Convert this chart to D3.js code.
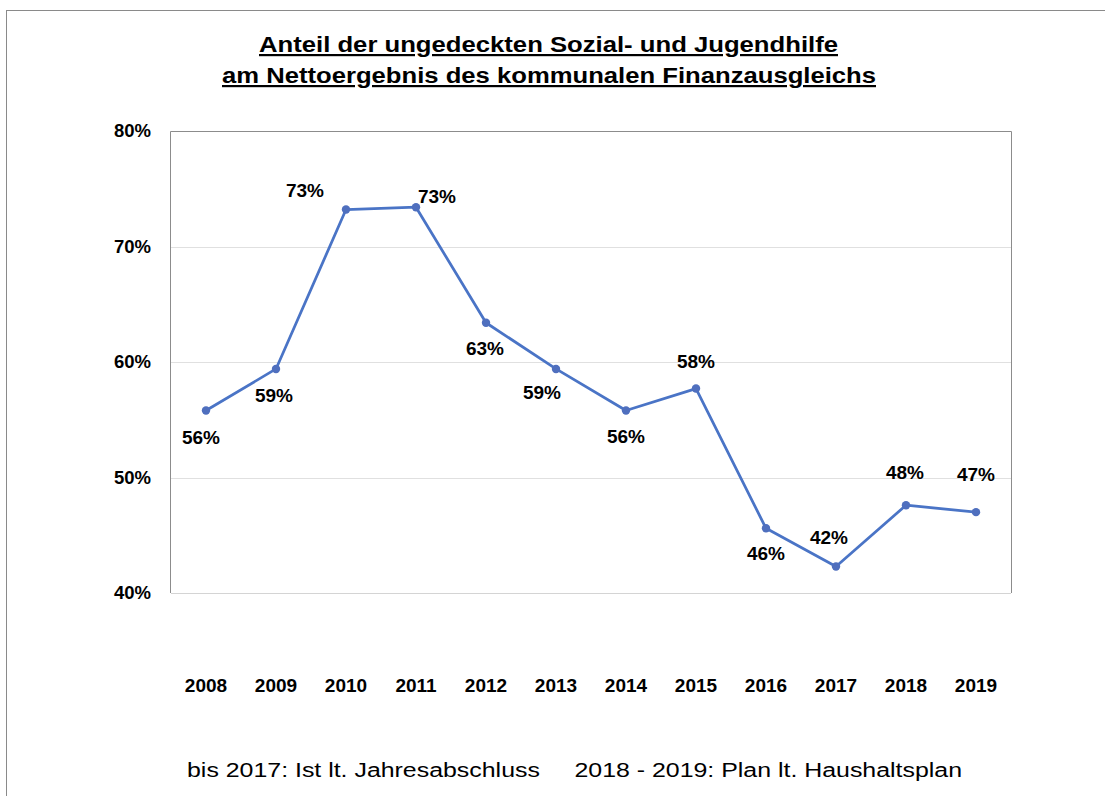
<!DOCTYPE html>
<html>
<head>
<meta charset="utf-8">
<script src="https://cdn.jsdelivr.net/npm/d3@7"></script>
<style>
  body { margin: 0; background: #fff; }
  svg { display: block; font-family: "Liberation Sans", Arial, sans-serif; }
</style>
</head>
<body>
<svg id="chart" width="1105" height="796"></svg>
<script>
'use strict';

// data
var years = ['2008', '2009', '2010', '2011', '2012', '2013', '2014', '2015', '2016', '2017', '2018', '2019'];
var shares = [55.8, 59.4, 73.2, 73.4, 63.4, 59.4, 55.8, 57.7, 45.6, 42.3, 47.6, 47.0];
var yTicks = [40, 50, 60, 70, 80];
var titleLines = ['Anteil der ungedeckten Sozial- und Jugendhilfe', 'am Nettoergebnis des kommunalen Finanzausgleichs'];
var footNote = 'bis 2017: Ist lt. Jahresabschluss\u00a0\u00a0\u00a0\u00a0\u00a02018 - 2019: Plan lt. Haushaltsplan';

// label placement for each point (dx, dy from the marker)
var labelShift = [
    [-5, 27], [-2, 26], [-41, -19], [21, -11], [-1, 26], [-14, 23],
    [0, 26], [0, -27], [0, 25], [-7, -29], [-1, -33], [0, -38]
];

var LINE_COLOR = '#4a74c6';
var DOT_COLOR = '#4f6fbe';
var GRID_COLOR = '#e0e0e0';
var FRAME_COLOR = '#8c8c8c';

var plot = { left: 171, right: 1011, top: 131, bottom: 593 };

var svg = d3.select('#chart');

// outer frame (runs past the right and bottom edges)
svg.append('rect')
    .attr('x', 6.5).attr('y', 10.5)
    .attr('width', 1200).attr('height', 900)
    .style('fill', 'none')
    .style('stroke', '#8a8a8a')
    .style('stroke-width', 1);

// title, the original glyphs are drawn wider than the font
var titleSpan = [[259, 838], [222, 876]];
titleLines.forEach(function(line, i) {
    svg.append('text')
        .attr('x', titleSpan[i][0])
        .attr('y', 52 + i * 31)
        .attr('textLength', titleSpan[i][1] - titleSpan[i][0])
        .attr('lengthAdjust', 'spacingAndGlyphs')
        .style('font-size', '22px')
        .style('font-weight', 'bold')
        .style('text-decoration', 'underline')
        .style('fill', '#000')
        .text(line);
});

var x = d3.scaleBand()
    .domain(years)
    .range([plot.left, plot.right]);

var y = d3.scaleLinear()
    .domain([40, 80])
    .range([plot.bottom, plot.top]);

// gridlines
svg.append('g')
    .selectAll('line')
    .data(yTicks.slice(1, -1))
    .join('line')
    .attr('x1', plot.left).attr('x2', plot.right)
    .attr('y1', function(d) { return Math.round(y(d)) + 0.5; })
    .attr('y2', function(d) { return Math.round(y(d)) + 0.5; })
    .style('stroke', GRID_COLOR)
    .style('stroke-width', 1);

// bottom line at 40%
svg.append('line')
    .attr('x1', plot.left).attr('x2', plot.right)
    .attr('y1', Math.round(y(40)) + 0.5).attr('y2', Math.round(y(40)) + 0.5)
    .style('stroke', '#d4d4d4')
    .style('stroke-width', 1);

// plot frame: left, top and right
svg.append('path')
    .attr('d', 'M' + (plot.left - 0.5) + ',' + plot.bottom +
        'V' + (plot.top + 0.5) + 'H' + (plot.right + 0.5) + 'V' + plot.bottom)
    .style('fill', 'none')
    .style('stroke', FRAME_COLOR)
    .style('stroke-width', 1);

// y axis labels
var yAxis = d3.axisLeft(y)
    .tickValues(yTicks)
    .tickFormat(function(d) { return d + '%'; })
    .tickSize(0)
    .tickPadding(20);
var yg = svg.append('g')
    .attr('transform', 'translate(' + plot.left + ',0)')
    .call(yAxis);
yg.select('.domain').remove();
yg.selectAll('text')
    .style('font-family', '"Liberation Sans", Arial, sans-serif')
    .style('font-size', '18.5px')
    .style('font-weight', 'bold')
    .style('fill', '#000');

// x axis labels
var xAxis = d3.axisBottom(x).tickSize(0).tickPadding(0);
var xg = svg.append('g')
    .attr('transform', 'translate(0,685)')
    .call(xAxis);
xg.select('.domain').remove();
xg.selectAll('text')
    .attr('dy', '0.35em')
    .style('font-family', '"Liberation Sans", Arial, sans-serif')
    .style('font-size', '19px')
    .style('font-weight', 'bold')
    .style('fill', '#000');

// series line
var line = d3.line()
    .x(function(d, i) { return x(years[i]) + x.bandwidth() / 2; })
    .y(function(d) { return y(d); });

svg.append('path')
    .datum(shares)
    .attr('d', line)
    .style('fill', 'none')
    .style('stroke', LINE_COLOR)
    .style('stroke-width', 2.75)
    .style('stroke-linejoin', 'round');

svg.append('g')
    .selectAll('circle')
    .data(shares)
    .join('circle')
    .attr('cx', function(d, i) { return x(years[i]) + x.bandwidth() / 2; })
    .attr('cy', function(d) { return y(d); })
    .attr('r', 4.2)
    .style('fill', DOT_COLOR);

// data labels
svg.append('g')
    .selectAll('text')
    .data(shares)
    .join('text')
    .attr('x', function(d, i) { return x(years[i]) + x.bandwidth() / 2 + labelShift[i][0]; })
    .attr('y', function(d, i) { return y(d) + labelShift[i][1]; })
    .attr('dy', '0.35em')
    .attr('text-anchor', 'middle')
    .style('font-size', '19px')
    .style('font-weight', 'bold')
    .style('fill', '#000')
    .text(function(d) { return Math.round(d) + '%'; });

// footnote
svg.append('text')
    .attr('x', 187)
    .attr('y', 777)
    .attr('textLength', 775)
    .attr('lengthAdjust', 'spacingAndGlyphs')
    .style('font-size', '20px')
    .style('fill', '#000')
    .text(footNote);
</script>
</body>
</html>
